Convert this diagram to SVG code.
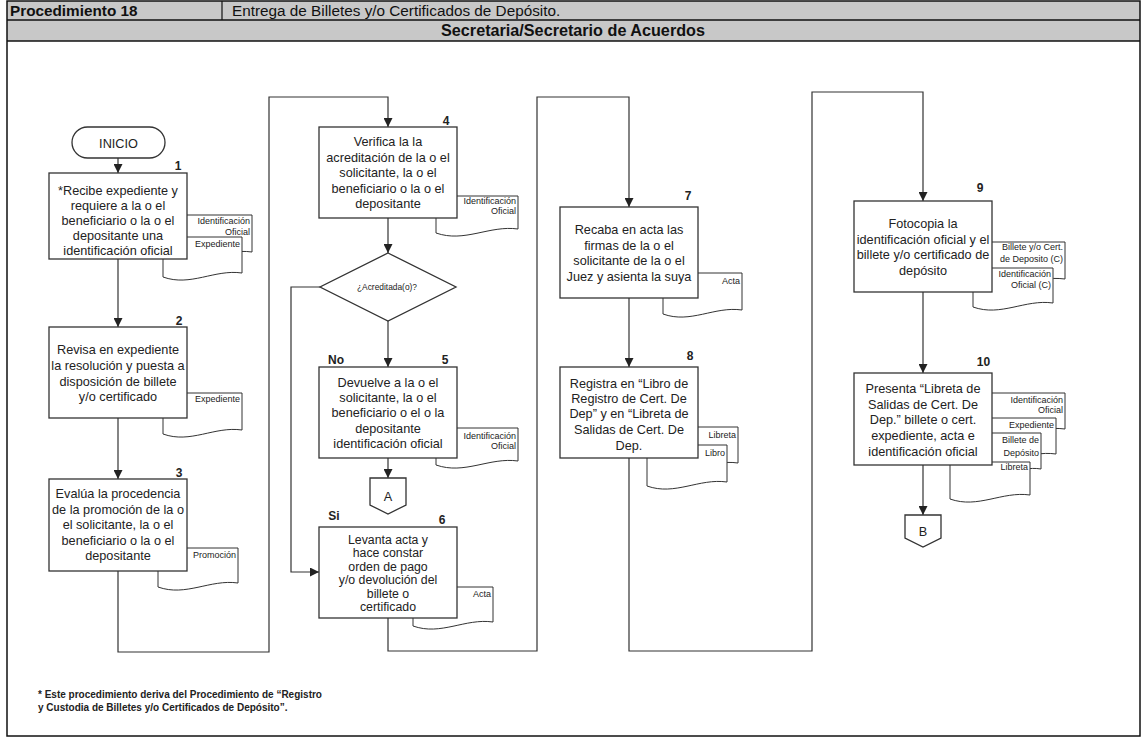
<svg xmlns="http://www.w3.org/2000/svg" width="1146" height="737" viewBox="0 0 1146 737">
<style>
text{font-family:"Liberation Sans",Arial,Helvetica,sans-serif;fill:#222}
.hd{font-size:15.3px;fill:#111}
.hd2{font-size:16.2px;fill:#111;font-weight:bold;text-anchor:middle}
.b{font-weight:bold}
.box{fill:#fff;stroke:#333;stroke-width:1.3}
.doc{fill:#fff;stroke:#333;stroke-width:1}
.t{font-size:12.7px;text-anchor:middle}
.t6{font-size:12.3px;text-anchor:middle}
.d{font-size:9px;text-anchor:end}
.n{font-size:12px;font-weight:bold;text-anchor:middle}
.conn path{fill:none;stroke:#333;stroke-width:1.2}
.note{font-size:10px;font-weight:bold}
</style>
<defs>
<marker id="ah" markerUnits="userSpaceOnUse" markerWidth="9" markerHeight="9" viewBox="0 0 10 10" refX="10" refY="5" orient="auto">
<path d="M0,0 L10,5 L0,10 Z" fill="#222"/>
</marker>
</defs>
<rect width="1146" height="737" fill="#fff"/>
<g id="header">
<rect x="7" y="1" width="1133" height="40" fill="#c8c8c8"/>
<rect x="7" y="1" width="1133" height="735" fill="none" stroke="#111" stroke-width="1.5"/>
<line x1="7" y1="20" x2="1140" y2="20" stroke="#111" stroke-width="1.5"/>
<line x1="7" y1="41" x2="1140" y2="41" stroke="#111" stroke-width="1.5"/>
<line x1="222" y1="1" x2="222" y2="20" stroke="#111" stroke-width="1.2"/>
<text class="hd b" x="10" y="16">Procedimiento 18</text>
<text class="hd" x="232" y="16">Entrega de Billetes y/o Certificados de Depósito.</text>
<text class="hd2" x="573" y="36">Secretaria/Secretario de Acuerdos</text>
</g>
<g class="conn">
<path d="M118,158 V173" marker-end="url(#ah)"/>
<path d="M118,257 V327" marker-end="url(#ah)"/>
<path d="M118,418 V479" marker-end="url(#ah)"/>
<path d="M118,571 V652 H269 V97 H388 V127" marker-end="url(#ah)"/>
<path d="M388,218 V253" marker-end="url(#ah)"/>
<path d="M388,321 V367" marker-end="url(#ah)"/>
<path d="M320,287 H291 V572 H319" marker-end="url(#ah)"/>
<path d="M388,458 V478" marker-end="url(#ah)"/>
<path d="M388,618 V651 H537 V97 H629 V207" marker-end="url(#ah)"/>
<path d="M629,298 V367" marker-end="url(#ah)"/>
<path d="M629,458 V651 H812 V92 H923 V201" marker-end="url(#ah)"/>
<path d="M923,292 V373" marker-end="url(#ah)"/>
<path d="M923,465 V515" marker-end="url(#ah)"/>
</g>
<g id="inicio">
<rect class="box" x="72" y="127" width="93" height="31" rx="15.5"/>
<text class="t" x="118.5" y="147.5">INICIO</text>
</g>
<g id="n1">
<path class="doc" d="M170,215 H252 V252 C223.3,248 198.7,266 170,256 Z"/>
<text class="d" x="250" y="224">Identificación</text>
<text class="d" x="250" y="235">Oficial</text>
<path class="doc" d="M163,237 H242 V273 C214.35,269 190.65,287 163,277 Z"/>
<text class="d" x="240" y="247">Expediente</text>
<rect class="box" x="49" y="173" width="138" height="86"/>
<text class="n" x="178" y="170">1</text>
<text class="t" x="118" y="195">*Recibe expediente y</text>
<text class="t" x="118" y="210">requiere a la o el</text>
<text class="t" x="118" y="225">beneficiario o la o el</text>
<text class="t" x="118" y="240">depositante una</text>
<text class="t" x="118" y="255">identificación oficial</text>
</g>
<g id="n2">
<path class="doc" d="M163,393 H242 V430 C214.35,426 190.65,444 163,434 Z"/>
<text class="d" x="240" y="402">Expediente</text>
<rect class="box" x="49" y="327" width="138" height="91"/>
<text class="n" x="179" y="325">2</text>
<text class="t" x="118" y="354">Revisa en expediente</text>
<text class="t" x="118" y="370">la resolución y puesta a</text>
<text class="t" x="118" y="386">disposición de billete</text>
<text class="t" x="118" y="401">y/o certificado</text>
</g>
<g id="n3">
<path class="doc" d="M158,548 H238 V583 C210,579 186,597 158,587 Z"/>
<text class="d" x="236" y="558">Promoción</text>
<rect class="box" x="49" y="479" width="138" height="92"/>
<text class="n" x="179" y="477">3</text>
<text class="t" x="118" y="498">Evalúa la procedencia</text>
<text class="t" x="118" y="513.5">de la promoción de la o</text>
<text class="t" x="118" y="529">el solicitante, la o el</text>
<text class="t" x="118" y="544.5">beneficiario o la o el</text>
<text class="t" x="118" y="560">depositante</text>
</g>
<g id="n4">
<path class="doc" d="M436,196 H518 V229 C489.3,225 464.7,243 436,233 Z"/>
<text class="d" x="516" y="204">Identificación</text>
<text class="d" x="516" y="213.5">Oficial</text>
<rect class="box" x="319" y="127" width="138" height="91"/>
<text class="n" x="446" y="125">4</text>
<text class="t" x="388" y="146">Verifica la la</text>
<text class="t" x="388" y="161.5">acreditación de la o el</text>
<text class="t" x="388" y="177">solicitante, la o el</text>
<text class="t" x="388" y="192.5">beneficiario o la o el</text>
<text class="t" x="388" y="208">depositante</text>
</g>
<g id="decision">
<path class="box" d="M388,253 L456,287 L388,321 L320,287 Z"/>
<text x="387" y="290" font-size="8.4" text-anchor="middle" fill="#333">¿Acreditada(o)?</text>
</g>
<g id="n5">
<path class="doc" d="M436,428 H518 V461 C489.3,457 464.7,475 436,465 Z"/>
<text class="d" x="516" y="439">Identificación</text>
<text class="d" x="516" y="449">Oficial</text>
<rect class="box" x="319" y="367" width="138" height="91"/>
<text class="n" x="336" y="363.5">No</text>
<text class="n" x="445" y="364">5</text>
<text class="t" x="388" y="386.5">Devuelve a la o el</text>
<text class="t" x="388" y="401.5">solicitante, la o el</text>
<text class="t" x="388" y="417">beneficiario o el o la</text>
<text class="t" x="388" y="432.5">depositante</text>
<text class="t" x="388" y="447.5">identificación oficial</text>
</g>
<g id="connA">
<path class="box" d="M370,478 H406 V505 L388,514 L370,505 Z"/>
<text class="t" x="388" y="501" font-size="14">A</text>
</g>
<g id="n6">
<path class="doc" d="M413,587 H493 V622 C465,618 441,636 413,626 Z"/>
<text class="d" x="491" y="597">Acta</text>
<rect class="box" x="319" y="527" width="138" height="91"/>
<text class="n" x="334" y="520">Si</text>
<text class="n" x="442" y="524">6</text>
<text class="t6" x="388" y="543.5">Levanta acta y</text>
<text class="t6" x="388" y="557">hace constar</text>
<text class="t6" x="388" y="570.5">orden de pago</text>
<text class="t6" x="388" y="584">y/o devolución del</text>
<text class="t6" x="388" y="597.5">billete o</text>
<text class="t6" x="388" y="611">certificado</text>
</g>
<g id="n7">
<path class="doc" d="M663,273 H742 V310 C714.35,306 690.65,324 663,314 Z"/>
<text class="d" x="740" y="284">Acta</text>
<rect class="box" x="560" y="207" width="138" height="91"/>
<text class="n" x="688" y="200">7</text>
<text class="t" x="629" y="234">Recaba en acta las</text>
<text class="t" x="629" y="249.5">firmas de la o el</text>
<text class="t" x="629" y="265">solicitante de la o el</text>
<text class="t" x="629" y="280.5">Juez y asienta la suya</text>
</g>
<g id="n8">
<path class="doc" d="M660,427 H738 V463 C710.7,459 687.3,477 660,467 Z"/>
<text class="d" x="736" y="438">Libreta</text>
<path class="doc" d="M647,445 H727 V482 C699,478 675,496 647,486 Z"/>
<text class="d" x="725" y="455.5">Libro</text>
<rect class="box" x="560" y="367" width="138" height="91"/>
<text class="n" x="690" y="360">8</text>
<text class="t" x="629" y="387.5">Registra en “Libro de</text>
<text class="t" x="629" y="402.5">Registro de Cert. De</text>
<text class="t" x="629" y="417.5">Dep” y en “Libreta de</text>
<text class="t" x="629" y="433.5">Salidas de Cert. De</text>
<text class="t" x="629" y="449.5">Dep.</text>
</g>
<g id="n9">
<path class="doc" d="M975,242 H1065 V279 C1033.5,275 1006.5,293 975,283 Z"/>
<text class="d" x="1063" y="250">Billete y/o Cert.</text>
<text class="d" x="1063" y="262">de Deposito (C)</text>
<path class="doc" d="M973,268 H1053 V303 C1025,299 1001,317 973,307 Z"/>
<text class="d" x="1051" y="276.5">Identificación</text>
<text class="d" x="1051" y="287.5">Oficial (C)</text>
<rect class="box" x="854" y="201" width="138" height="91"/>
<text class="n" x="980" y="192">9</text>
<text class="t" x="923" y="228">Fotocopia la</text>
<text class="t" x="923" y="243.5">identificación oficial y el</text>
<text class="t" x="923" y="259">billete y/o certificado de</text>
<text class="t" x="923" y="274.5">depósito</text>
</g>
<g id="n10">
<path class="doc" d="M975,393 H1065 V429 C1033.5,425 1006.5,443 975,433 Z"/>
<text class="d" x="1063" y="402.5">Identificación</text>
<text class="d" x="1063" y="412.5">Oficial</text>
<path class="doc" d="M975,418 H1056 V454 C1027.65,450 1003.35,468 975,458 Z"/>
<text class="d" x="1054" y="427.5">Expediente</text>
<path class="doc" d="M975,433 H1041 V469 C1017.9,465 998.1,483 975,473 Z"/>
<text class="d" x="1039" y="442.5">Billete de</text>
<text class="d" x="1039" y="456">Depósito</text>
<path class="doc" d="M950,462 H1030 V495 C1002,491 978,509 950,499 Z"/>
<text class="d" x="1028" y="470">Libreta</text>
<rect class="box" x="854" y="373" width="138" height="92"/>
<text class="n" x="983.5" y="366">10</text>
<text class="t" x="923" y="392.5">Presenta “Libreta de</text>
<text class="t" x="923" y="408.5">Salidas de Cert. De</text>
<text class="t" x="923" y="423.5">Dep.” billete o cert.</text>
<text class="t" x="923" y="439.5">expediente, acta e</text>
<text class="t" x="923" y="455.5">identificación oficial</text>
</g>
<g id="connB">
<path class="box" d="M905,515 H941 V538 L923,547 L905,538 Z"/>
<text class="t" x="923" y="536" font-size="14">B</text>
</g>
<g id="footnote">
<text class="note" x="38" y="698">* Este procedimiento deriva del Procedimiento de “Registro</text>
<text class="note" x="38" y="711">y Custodia de Billetes y/o Certificados de Depósito”.</text>
</g>
</svg>
